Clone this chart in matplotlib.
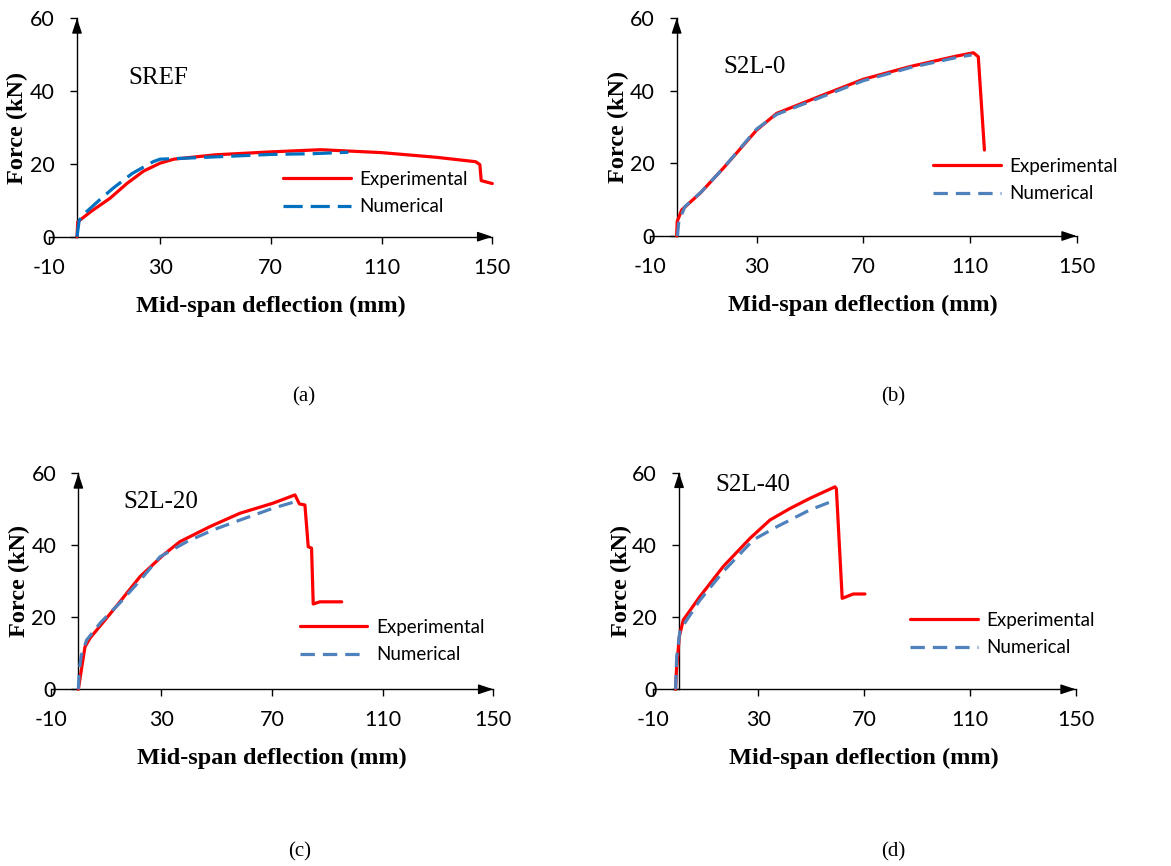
import matplotlib.pyplot as plt

plt.rcParams['axes.unicode_minus'] = False

# SREF
sref_exp_x = [0, 0.3, 5, 12, 18, 24, 30, 35, 50, 70, 88, 110, 130, 144, 145.5, 146, 150]
sref_exp_y = [0, 4.1, 6.9, 10.6, 14.6, 18.0, 20.2, 21.3, 22.5, 23.3, 23.9, 23.1, 21.8, 20.6, 19.8, 15.4, 14.6]
sref_num_x = [0, 0.8, 3.5, 8, 13, 20, 27.5, 30, 40, 55, 70, 85, 98]
sref_num_y = [0, 4.5, 6.9, 10, 13.3, 17.4, 20.6, 21.3, 21.6, 22.1, 22.6, 22.8, 23.2]

# S2L-0
s0_exp_x = [0, 0.2, 1.9, 8.8, 17.5, 30, 37.5, 55, 70, 87.5, 105, 111.3, 113.1, 115.4]
s0_exp_y = [0, 4, 7.2, 11.8, 18.7, 29.2, 33.8, 38.9, 43.2, 46.7, 49.6, 50.5, 49.4, 23.7]
s0_num_x = [0.3, 0.8, 3.1, 9, 17.5, 30, 37.5, 55, 70, 87.5, 105, 110.6]
s0_num_y = [0, 4, 8.1, 12, 18.7, 29.5, 33.5, 38.5, 42.8, 46.4, 49.2, 49.9]

# S2L-20
s20_exp_x = [0, 1.2, 2.4, 4.2, 12.6, 22.3, 30.7, 36.7, 47.6, 58.4, 70.4, 78.3, 79.9, 81.9, 83.1, 84.3, 84.9, 87.3, 95.2]
s20_exp_y = [0, 6, 11.8, 14.2, 22, 31.3, 37.3, 41, 45.2, 48.9, 51.7, 54, 51.5, 51.2, 39.6, 39.2, 23.7, 24.3, 24.3]
s20_num_x = [0, 0.3, 1, 3, 8, 15, 22, 29.5, 39.2, 48.8, 58.4, 70.4, 78.3]
s20_num_y = [0, 5, 9.3, 13.7, 18.5, 24, 30, 36.8, 41, 44.3, 47, 50.3, 52.1]

# S2L-40
s40_exp_x = [-1.3, -1.0, 0.1, 1.6, 7.9, 16.7, 26.8, 34.4, 42, 49.5, 59, 59.5, 61.7, 65.9, 70.3]
s40_exp_y = [0, 5, 14.6, 19.2, 25.7, 34, 41.8, 46.9, 50.1, 52.9, 56.1, 55.5, 25.2, 26.4, 26.4]
s40_num_x = [-1.3, -0.9, 0.4, 7.9, 16.7, 28.1, 36.9, 49.5, 59]
s40_num_y = [0, 9, 16.4, 24.7, 32.6, 41.4, 45, 49.7, 52.4]

x_ticks = [-10, 30, 70, 110, 150]
y_ticks = [0, 20, 40, 60]

W, H = 1171, 866
fig = plt.figure(figsize=(W / 100, H / 100), dpi=100)
fig.patch.set_facecolor('white')

tick_font = 'Lato'
label_font = 'Liberation Serif'

panels = [
    # axes px box (left, top, right, bottom), data, name, name pos, legend pos, sub label, blue, dashes
    ((49.3, 18.3, 492.3, 236.7), (sref_exp_x, sref_exp_y, sref_num_x, sref_num_y),
     'SREF', (128, 78), (283, 193), '(a)', (304, 397), '#0070C0', (6, 2.5)),
    ((650, 18.3, 1076.7, 236), (s0_exp_x, s0_exp_y, s0_num_x, s0_num_y),
     'S2L-0', (723, 67), (933, 180), '(b)', (893, 397), '#4F81BD', (4.5, 2.5)),
    ((50.7, 473.3, 493.3, 689.3), (s20_exp_x, s20_exp_y, s20_num_x, s20_num_y),
     'S2L-20', (123, 502), (300, 641), '(c)', (300, 852), '#4F81BD', (4.5, 2.5)),
    ((652.6, 472.7, 1075.7, 689.3), (s40_exp_x, s40_exp_y, s40_num_x, s40_num_y),
     'S2L-40', (715, 485), (910, 634), '(d)', (893, 852), '#4F81BD', (4.5, 2.5)),
]

for box, data, name, name_pos, leg_pos, sub, sub_pos, blue, dash in panels:
    l, t, r, b = box
    ax = fig.add_axes([l / W, 1 - b / H, (r - l) / W, (b - t) / H])
    ex, ey, nx, ny = data
    ax.plot(ex, ey, color='#FF0000', lw=2.3, label='Experimental', solid_joinstyle='round',
            solid_capstyle='round', clip_on=False, zorder=3)
    ax.plot(nx, ny, color=blue, lw=2.3, dashes=dash, label='Numerical', clip_on=False, zorder=4)

    ax.set_xlim(-10, 150)
    ax.set_ylim(0, 60)
    ax.set_xticks(x_ticks)
    ax.set_yticks(y_ticks)
    for s in ['top', 'right']:
        ax.spines[s].set_visible(False)
    ax.spines['left'].set_position(('data', 0))
    ax.spines['left'].set_linewidth(1)
    ax.spines['bottom'].set_linewidth(1)
    ax.tick_params(axis='x', direction='out', length=5, width=1, pad=10)
    ax.tick_params(axis='y', direction='out', length=5, width=1, pad=11)
    for lab in ax.get_xticklabels() + ax.get_yticklabels():
        lab.set_fontfamily(tick_font)
        lab.set_fontsize(15.5)

    # arrow heads on axes
    ax.annotate('', xy=(150, 0), xytext=(148, 0),
                arrowprops=dict(arrowstyle='-|>,head_length=0.9,head_width=0.3', color='black',
                                lw=1, shrinkA=0, shrinkB=0), annotation_clip=False)
    ax.annotate('', xy=(0, 60), xytext=(0, 59),
                arrowprops=dict(arrowstyle='-|>,head_length=0.9,head_width=0.3', color='black',
                                lw=1, shrinkA=0, shrinkB=0), annotation_clip=False)

    ax.set_xlabel('Mid-span deflection (mm)', fontfamily=label_font, fontweight='bold', fontsize=17.5,
                  labelpad=13)
    ax.set_ylabel('Force (kN)', fontfamily=label_font, fontweight='bold', fontsize=17.5)
    ax.yaxis.set_label_coords(-21 / (r - l), 0.5)

    fig.text(name_pos[0] / W, 1 - name_pos[1] / H, name, fontfamily='Liberation Serif', fontsize=18,
             ha='left', va='center')
    fig.text(sub_pos[0] / W, 1 - sub_pos[1] / H, sub, fontfamily='Liberation Serif', fontsize=15,
             ha='center', va='center')

    ax.legend(loc='center left', bbox_to_anchor=(leg_pos[0] / W, 1 - leg_pos[1] / H),
              bbox_transform=fig.transFigure, frameon=False, borderpad=0, borderaxespad=0,
              handlelength=3.6, handletextpad=0.45, labelspacing=0.55,
              prop={'family': tick_font, 'size': 13.5})

fig.savefig('out.png', dpi=100, facecolor='white')
